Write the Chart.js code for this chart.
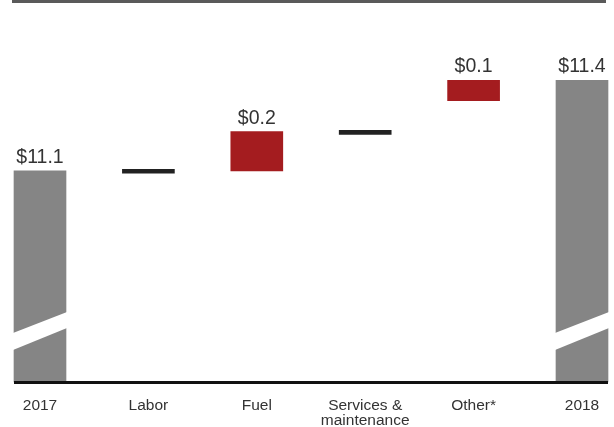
<!DOCTYPE html>
<html>
<head>
<meta charset="utf-8">
<script src="https://cdn.jsdelivr.net/npm/chart.js@4/dist/chart.umd.min.js"></script>
<style>
  html, body { margin: 0; padding: 0; background: #fff; }
  #wrap { width: 614px; height: 427px; position: relative; }
</style>
</head>
<body>
<div id="wrap"><canvas id="myChart"></canvas></div>
<script>
// categories along the bottom
const categories = ['2017', 'Labor', 'Fuel', ['Services &', 'maintenance'], 'Other*', '2018'];
// floating bars [low, high] in $ billions (axis is broken, starts at 10.4)
const barLow  = [10.4, 11.092, 11.1,  11.221, 11.333, 10.4];
const barHigh = [11.1, 11.105, 11.23, 11.234, 11.4,   11.4];
// text above the bars
const amountLabels = ['$11.1', '', '$0.2', '', '$0.1', '$11.4'];
const barColors = ['#858585', '#222222', '#a41c1f', '#222222', '#a41c1f', '#858585'];
// bars that get the axis break mark
const brokenBars = [0, 5];

const ranges = barLow.map(function (v, i) { return [v, barHigh[i]]; });

const decorations = {
    id: 'decorations',
    afterDatasetsDraw: function (chart) {
        const ctx = chart.ctx;
        const meta = chart.getDatasetMeta(0);
        const area = chart.chartArea;
        const first = meta.data[0];
        const last = meta.data[meta.data.length - 1];
        const left = first.x - first.width / 2;
        const right = last.x + last.width / 2;

        ctx.save();
        // break marks: white slanted band across the tall bars
        ctx.fillStyle = '#ffffff';
        brokenBars.forEach(function (i) {
            const bar = meta.data[i];
            const x0 = bar.x - bar.width / 2 - 1;
            const x1 = bar.x + bar.width / 2 + 1;
            const yb = area.bottom;
            ctx.beginPath();
            ctx.moveTo(x0, yb - 49);
            ctx.lineTo(x1, yb - 70);
            ctx.lineTo(x1, yb - 54);
            ctx.lineTo(x0, yb - 32);
            ctx.closePath();
            ctx.fill();
        });

        // baseline
        ctx.fillStyle = '#111111';
        ctx.fillRect(left, area.bottom - 1, right - left, 3);

        // top rule
        ctx.fillStyle = '#5a5a5a';
        ctx.fillRect(left - 2, 0, right - left, 3);

        // amounts above bars
        ctx.fillStyle = '#333333';
        ctx.font = '19.5px "Liberation Sans", Arial, sans-serif';
        ctx.textAlign = 'center';
        ctx.textBaseline = 'alphabetic';
        meta.data.forEach(function (bar, i) {
            if (!amountLabels[i]) return;
            ctx.fillText(amountLabels[i], bar.x, bar.y - 8);
        });
        ctx.restore();
    }
};

new Chart('myChart', {
    type: 'bar',
    data: {
        labels: categories,
        datasets: [{
            data: ranges,
            backgroundColor: barColors,
            borderWidth: 0,
            borderSkipped: false,
            barThickness: 52,
            clip: false
        }]
    },
    options: {
        responsive: true,
        maintainAspectRatio: false,
        animation: false,
        layout: { padding: { top: 20, left: 40, right: 32, bottom: 0 } },
        plugins: {
            legend: { display: false },
            tooltip: { enabled: false }
        },
        scales: {
            x: {
                offset: false,
                grid: { display: false, drawTicks: false },
                border: { display: false },
                ticks: {
                    autoSkip: false,
                    maxRotation: 0,
                    padding: 17,
                    color: '#333333',
                    font: { family: '"Liberation Sans", Arial, sans-serif', size: 15.5, lineHeight: 0.92 }
                },
                afterFit: function (scale) {
                    scale.paddingLeft = 0;
                    scale.paddingRight = 0;
                    scale.height = 45;
                }
            },
            y: {
                display: false,
                min: 10.4,
                max: 11.6
            }
        }
    },
    plugins: [decorations]
});
</script>
</body>
</html>
